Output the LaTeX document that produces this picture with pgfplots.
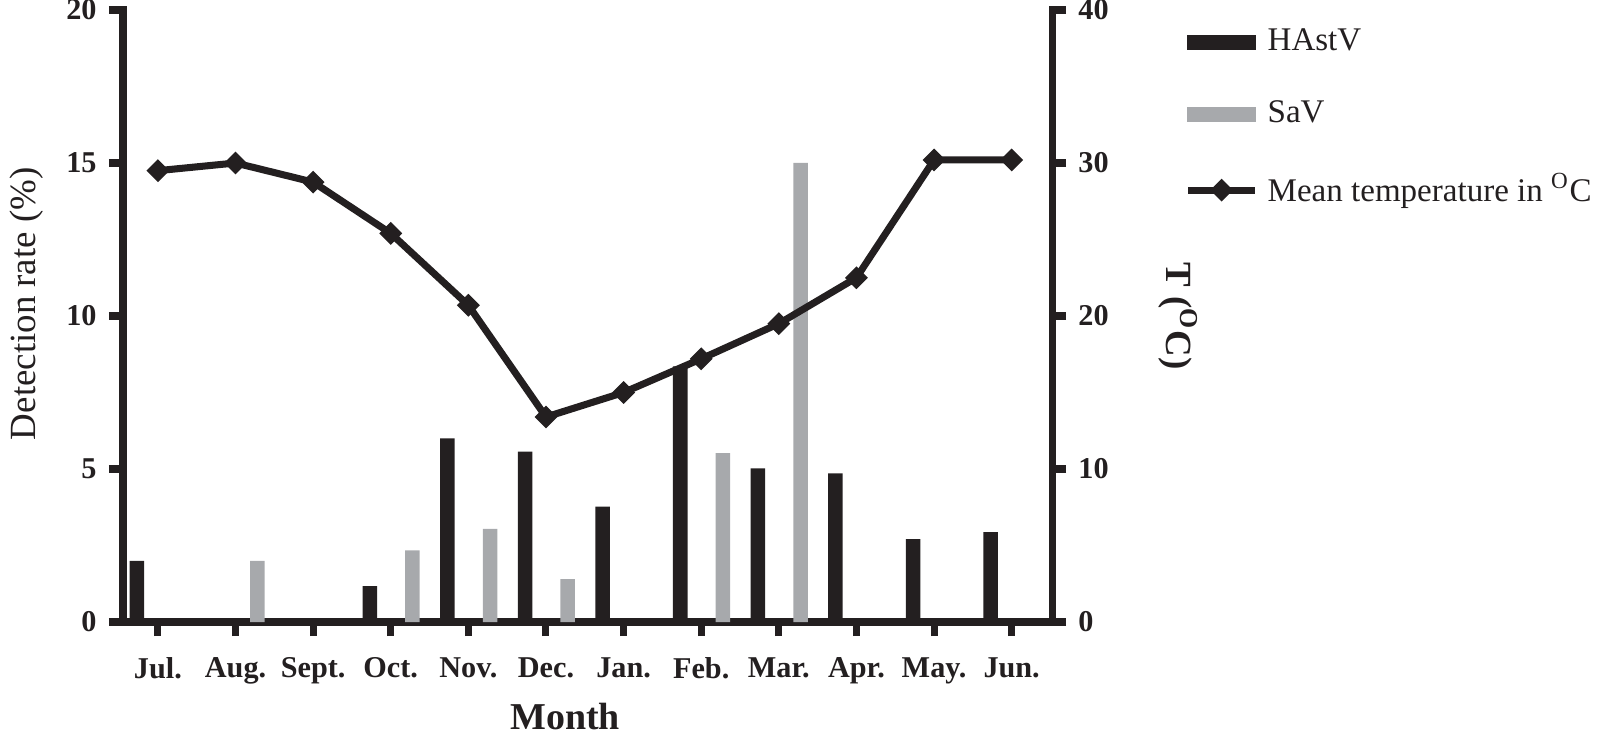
\documentclass[border=0pt]{standalone}
\usepackage{fontspec}
\setmainfont{Liberation Serif}
\usepackage{pgfplots}
\pgfplotsset{compat=1.18}

\definecolor{hastv}{HTML}{231F20}
\definecolor{sav}{HTML}{A7A9AC}

\pgfplotsset{
  base/.style={
    scale only axis, width=92.9mm, height=61.2mm,
    at={(0,0)}, anchor=south west,
    xmin=-0.45, xmax=11.52,
    axis line style={line width=2pt, line cap=rect, color=hastv},
    major tick style={line width=2pt, color=hastv},
    major tick length=1.4mm,
    tick align=outside,
    ticklabel style={font=\bfseries\fontsize{8.6}{10}\selectfont, text=hastv},
    /pgf/number format/assume math mode=true,
    label style={text=hastv},
  },
}

\begin{document}
\begin{tikzpicture}
\useasboundingbox (-12.3mm,-11.4mm) rectangle (147.7mm,62.2mm);

% detection rate (left axis)
\begin{axis}[base,
  axis x line*=bottom, axis y line*=left,
  ymin=0, ymax=20, ytick={0,5,10,15,20},
  xtick={0,...,11},
  xticklabels={Jul., Aug., Sept., Oct., Nov., Dec., Jan., Feb., Mar., Apr., May., Jun.},
  xticklabel style={yshift=-0.9mm},
  ylabel={Detection rate (\%)},
  ylabel style={at={(axis description cs:-0.104,0.52)}, anchor=center,
    font=\fontsize{10.5}{12}\selectfont},
  xlabel={Month},
  xlabel style={at={(axis description cs:0.476,-0.154)}, anchor=center,
    font=\bfseries\fontsize{10.8}{12}\selectfont},
]
% HAstV
\addplot[ybar, bar width=0.187, bar shift=-0.27, fill=hastv, draw=none] coordinates {
  (0,2.0) (3,1.17) (4,6.0) (5,5.57) (6,3.77) (7,8.35) (8,5.02) (9,4.86) (10,2.71) (11,2.94)
};
% SaV
\addplot[ybar, bar width=0.187, bar shift=0.28, fill=sav, draw=none] coordinates {
  (1,2.0) (3,2.34) (4,3.04) (5,1.40) (7,5.52) (8,15.0)
};
\end{axis}

% temperature (right axis)
\begin{axis}[base,
  axis y line*=right, hide x axis,
  ymin=0, ymax=40, ytick={0,10,20,30,40},
  ylabel={T (\textsuperscript{O}C)},
  ylabel style={at={(axis description cs:1.136,0.5)}, anchor=center, rotate=180,
    font=\bfseries\fontsize{10.5}{12}\selectfont},
  legend style={draw=none, fill=none, at={(axis description cs:1.142,0.985)},
    anchor=north west, font=\fontsize{9.4}{11}\selectfont, row sep=2.7mm,
    inner sep=0pt, nodes={inner sep=0.9mm, text=hastv}},
  legend cell align=left,
]
\addlegendimage{legend image code/.code={\fill[hastv] (0mm,-0.7mm) rectangle (6.7mm,0.7mm);}}
\addlegendentry{HAstV}
\addlegendimage{legend image code/.code={\fill[sav] (0mm,-0.7mm) rectangle (6.7mm,0.7mm);}}
\addlegendentry{SaV}
\addplot[color=hastv, line width=2pt, mark=square*, mark size=2.1pt,
  mark options={rotate=45, line width=0.4pt, solid},
  legend image code/.code={\draw[mark repeat=2, mark phase=2]
    plot coordinates {(0mm,0mm) (3.35mm,0mm) (6.7mm,0mm)};}] coordinates {
  (0,29.5) (1,30.0) (2,28.75) (3,25.4) (4,20.7) (5,13.4)
  (6,15.0) (7,17.2) (8,19.5) (9,22.5) (10,30.2) (11,30.2)
};
\addlegendentry{Mean temperature in \textsuperscript{O}C}
\end{axis}
\end{tikzpicture}
\end{document}
